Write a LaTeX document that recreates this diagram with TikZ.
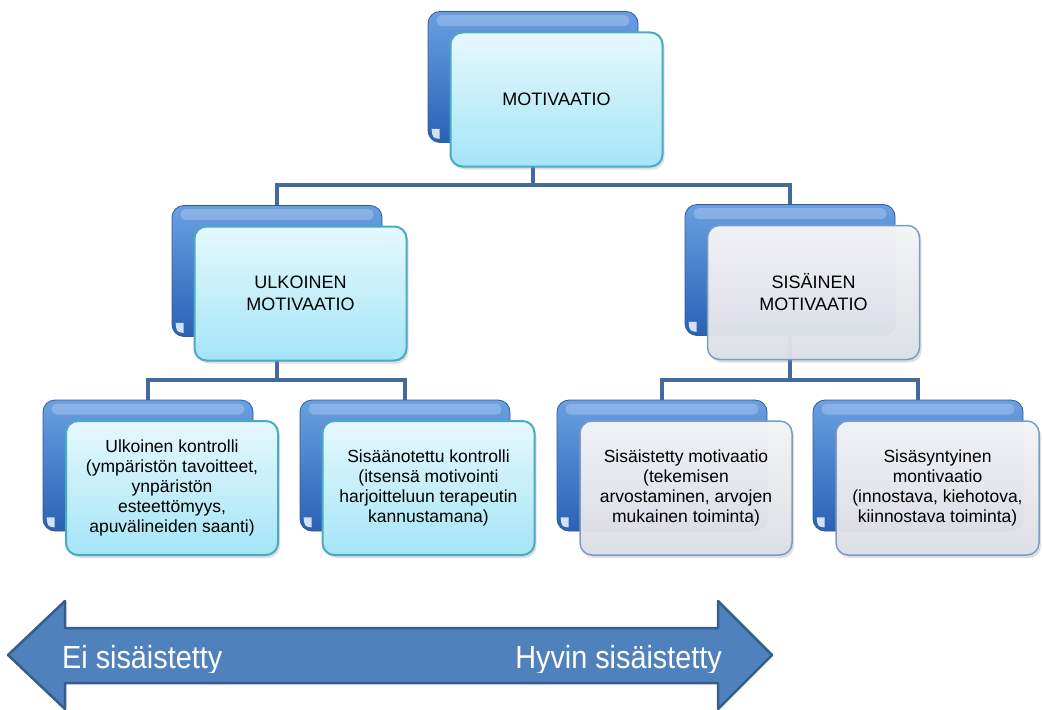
\documentclass[tikz,border=0pt]{standalone}
\usepackage{fontspec}
\setmainfont{Liberation Sans}
\usetikzlibrary{shadows}
\pgfdeclarelayer{bg}
\pgfsetlayers{bg,main}
\definecolor{bk1}{HTML}{6A9FE2}
\definecolor{bk2}{HTML}{2A62B4}
\definecolor{bkedge}{HTML}{2A5C9E}
\definecolor{cy1}{HTML}{E6F8FD}
\definecolor{cy2}{HTML}{A4E5F7}
\definecolor{cyedge}{HTML}{4AAAC4}
\definecolor{gr1}{HTML}{F4F5F7}
\definecolor{gr2}{HTML}{DCDFE4}
\definecolor{gredge}{HTML}{7C9CC6}
\definecolor{lnc}{HTML}{44699B}
\definecolor{arrfill}{HTML}{4F81BD}
\definecolor{arredge}{HTML}{385D8A}
\tikzset{
  backbox/.style={rounded corners=12pt, minimum width=210pt, minimum height=131pt,
    top color=bk1, bottom color=bk2, draw=bkedge, line width=0.8pt, inner sep=0pt},
  frontbase/.style={rounded corners=12pt, minimum width=212pt, minimum height=134pt,
    align=center, inner sep=2pt,
    drop shadow={shadow xshift=2pt, shadow yshift=-3pt, opacity=0.25}},
  cyanbox/.style={frontbase, top color=cy1, bottom color=cy2, draw=cyedge, line width=2pt},
  greybox/.style={frontbase, top color=gr1, bottom color=gr2, draw=gredge, line width=1.5pt, fill opacity=0.97, text opacity=1},
  bigtext/.style={font=\fontsize{18}{22}\selectfont},
  smalltext/.style={font=\fontsize{17.5}{20}\selectfont},
  conn/.style={draw=lnc, line width=4.5pt},
  arrtext/.style={text=white, font=\fontsize{32}{34}\selectfont, inner sep=0pt},
}
\newcommand{\mybackbox}[3]{%
  \node[backbox] (#1) at (#2,#3) {};
  \fill[white, opacity=0.22, rounded corners=5pt]
    ([xshift=9pt,yshift=-4pt]#1.north west) rectangle ([xshift=-9pt,yshift=-15pt]#1.north east);
  \fill[white, opacity=0.8]
    ([xshift=4pt,yshift=14pt]#1.south west) -- ([xshift=12pt,yshift=14pt]#1.south west)
    -- ([xshift=12pt,yshift=4pt]#1.south west) .. controls ([xshift=5pt,yshift=5pt]#1.south west) .. cycle;
}
\begin{document}
\begin{tikzpicture}[x=1pt,y=-1pt]
\clip (0,0) rectangle (1043,709);

% back boxes
\mybackbox{topback}{533}{77}
\mybackbox{lback}{277}{271}
\mybackbox{rback}{790}{270}
\mybackbox{baback}{148}{465.5}
\mybackbox{bbback}{405}{465.5}
\mybackbox{bcback}{662}{465.5}
\mybackbox{bdback}{918}{465.5}

% front boxes
\node[cyanbox, bigtext] (top) at (556.5,99.5) {MOTIVAATIO};
\node[cyanbox, bigtext] (left) at (300.5,293.5) {ULKOINEN\\MOTIVAATIO};
\node[greybox, bigtext] (right) at (813.5,292.5) {SISÄINEN\\MOTIVAATIO};
\node[cyanbox, smalltext] (ba) at (172,488) {Ulkoinen kontrolli\\(ympäristön tavoitteet,\\ynpäristön\\esteettömyys,\\apuvälineiden saanti)};
\node[cyanbox, smalltext] (bb) at (428.5,488) {Sisäänotettu kontrolli\\(itsensä motivointi\\harjoitteluun terapeutin\\kannustamana)};
\node[greybox, smalltext] (bc) at (686,488) {Sisäistetty motivaatio\\(tekemisen\\arvostaminen, arvojen\\mukainen toiminta)};
\node[greybox, smalltext, minimum width=203pt] (bd) at (937.5,488) {Sisäsyntyinen\\montivaatio\\(innostava, kiehotova,\\kiinnostava toiminta)};

% connectors
\coordinate (j0) at (0,185);
\coordinate (j1) at (0,380);
\begin{pgfonlayer}{bg}
\draw[conn] (topback.south) -- (topback.south |- j0) -| (lback.north);
\draw[conn] (topback.south |- j0) -| (rback.north);
\draw[conn] (lback.south) -- (lback.south |- j1) -| (baback.north);
\draw[conn] (lback.south |- j1) -| (bbback.north);
\draw[conn] (rback.south) -- (rback.south |- j1) -| (bcback.north);
\draw[conn] (rback.south |- j1) -| (bdback.north);
\end{pgfonlayer}

% double arrow
\draw[fill=arrfill, draw=arredge, line width=2.5pt, line join=round]
  (8,655) -- (65,601) -- (65,628) -- (718,628) -- (718,601) -- (772,655)
  -- (718,709) -- (718,683) -- (65,683) -- (65,709) -- cycle;
\begin{scope}
\clip (0,0) rectangle (1043,672);
\node[arrtext, anchor=base west] (lowlab) at (62,668) {\scalebox{0.9}[1]{Ei sisäistetty}};
\node[arrtext, anchor=base east] (highlab) at (722,668) {\scalebox{0.9}[1]{Hyvin sisäistetty}};
\end{scope}
\end{tikzpicture}
\end{document}
